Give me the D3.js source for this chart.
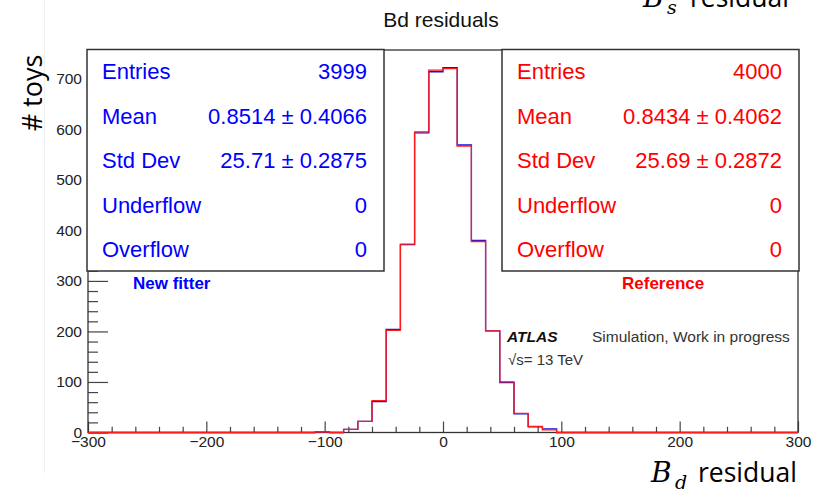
<!DOCTYPE html>
<html>
<head>
<meta charset="utf-8">
<script src="https://cdn.jsdelivr.net/npm/d3@7"></script>
<style>
  body { margin: 0; background: #fff; }
  svg { display: block; }
</style>
</head>
<body>
<svg id="chart" width="825" height="495"></svg>
<script>
// Histogram binning: 50 bins of width 12 over [-300, 300]
const xMin = -300;
const xMax = 300;
const binWidth = 12;
const yMax = 757;

// Bin contents, "New fitter" (blue)
const countsNew = [
  0, 0, 0, 0, 0, 0, 0, 0, 0, 0,
  0, 0, 0, 0, 0, 0, 1, 0, 6, 22,
  61, 204, 372, 593, 714, 722, 569, 380, 201, 99,
  37, 11, 7, 0, 0, 0, 0, 0, 0, 0,
  0, 0, 0, 0, 0, 0, 0, 0, 0, 0
];

// Bin contents, "Reference" (red)
const countsRef = [
  0, 0, 0, 0, 0, 0, 0, 0, 0, 0,
  0, 0, 0, 0, 0, 0, 1, 0, 6, 22,
  63, 202, 373, 595, 717, 720, 567, 378, 201, 100,
  38, 12, 5, 0, 0, 0, 0, 0, 0, 0,
  0, 0, 0, 0, 0, 0, 0, 0, 0, 0
];

// Axis ticks
const xMajorTicks = [-300, -200, -100, 0, 100, 200, 300];
const yMajorTicks = [0, 100, 200, 300, 400, 500, 600, 700];

// Statistics boxes
const statLabels = ["Entries", "Mean", "Std Dev", "Underflow", "Overflow"];
const statsNew = ["3999", "0.8514 \u00b1 0.4066", "25.71 \u00b1 0.2875", "0", "0"];
const statsRef = ["4000", "0.8434 \u00b1 0.4062", "25.69 \u00b1 0.2872", "0", "0"];

const svg = d3.select("#chart");
const ROOT_FONT = "'Liberation Sans', Arial, Helvetica, sans-serif";
const SLIDE_FONT = "'Open Sans', 'Noto Sans', sans-serif";
const MATH_FONT = "'DejaVu Serif', 'Liberation Serif', serif";

const frame = { left: 88, right: 798, top: 50, bottom: 432.5 };

const x = d3.scaleLinear().domain([xMin, xMax]).range([frame.left, frame.right]);
const y = d3.scaleLinear().domain([0, yMax]).range([frame.bottom, frame.top]);

// faint edge of the embedded canvas
svg.append("line")
  .attr("x1", 44.5).attr("x2", 44.5).attr("y1", 0).attr("y2", 473)
  .attr("stroke", "#f0f0f0").attr("stroke-width", 1);

// title
svg.append("text")
  .attr("x", 441).attr("y", 27)
  .attr("text-anchor", "middle")
  .attr("font-family", ROOT_FONT).attr("font-size", 21)
  .attr("fill", "#111")
  .text("Bd residuals");

// ---- axes ----
function styleAxis(g) {
  g.select(".domain").remove();
  g.selectAll("line").attr("stroke", "#444").attr("stroke-width", 1.2);
  g.selectAll("text").attr("font-family", ROOT_FONT).attr("font-size", 15.5).attr("fill", "#222");
}

const xMinor = d3.range(xMin, xMax + 1, 20).filter(v => v % 100 !== 0);
svg.append("g")
  .attr("transform", `translate(0,${frame.bottom})`)
  .call(d3.axisBottom(x).tickValues(xMinor).tickSize(-5.7).tickFormat(""))
  .call(styleAxis);
svg.append("g")
  .attr("transform", `translate(0,${frame.bottom})`)
  .call(d3.axisBottom(x).tickValues(xMajorTicks).tickSize(-11).tickPadding(3).tickFormat(d3.format("d")))
  .call(styleAxis);

const yMinor = d3.range(0, yMax, 20).filter(v => v % 100 !== 0);
svg.append("g")
  .attr("transform", `translate(${frame.left},0)`)
  .call(d3.axisLeft(y).tickValues(yMinor).tickSize(-10).tickFormat(""))
  .call(styleAxis);
svg.append("g")
  .attr("transform", `translate(${frame.left},0)`)
  .call(d3.axisLeft(y).tickValues(yMajorTicks).tickSize(-20).tickPadding(6).tickFormat(d3.format("d")))
  .call(styleAxis);

// frame
svg.append("rect")
  .attr("x", frame.left).attr("y", frame.top)
  .attr("width", frame.right - frame.left).attr("height", frame.bottom - frame.top)
  .attr("fill", "none").attr("stroke", "#333").attr("stroke-width", 1.3);

// ---- histograms ----
function histPoints(counts) {
  const pts = counts.map((c, i) => [xMin + i * binWidth, c]);
  pts.push([xMax, counts[counts.length - 1]]);
  return pts;
}
const stepLine = d3.line()
  .x(d => x(d[0]))
  .y(d => y(d[1]))
  .curve(d3.curveStepAfter);

svg.append("path")
  .attr("d", stepLine(histPoints(countsNew)))
  .attr("fill", "none").attr("stroke", "#1010e0").attr("stroke-width", 1.3);
svg.append("path")
  .attr("d", stepLine(histPoints(countsRef)))
  .attr("fill", "none").attr("stroke", "#ff1a1a").attr("stroke-width", 1.3);

// ---- statistics boxes ----
function statBox(box, values, color) {
  svg.append("rect")
    .attr("x", box.x0).attr("y", box.y0)
    .attr("width", box.x1 - box.x0).attr("height", box.y1 - box.y0)
    .attr("fill", "#fff").attr("stroke", "#333").attr("stroke-width", 1.5);
  const rowY = d3.scalePoint().domain(statLabels).range([79, 257]);
  statLabels.forEach((lab, i) => {
    svg.append("text")
      .attr("x", box.x0 + 15).attr("y", rowY(lab))
      .attr("font-family", ROOT_FONT).attr("font-size", 22).attr("fill", color)
      .text(lab);
    svg.append("text")
      .attr("x", box.x1 - 17).attr("y", rowY(lab))
      .attr("text-anchor", "end")
      .attr("font-family", ROOT_FONT).attr("font-size", 22).attr("fill", color)
      .text(values[i]);
  });
}
statBox({ x0: 87, x1: 384, y0: 49.5, y1: 271 }, statsNew, "#0000ff");
statBox({ x0: 502, x1: 799, y0: 49.5, y1: 271 }, statsRef, "#ff0000");

// legend labels
svg.append("text")
  .attr("x", 133).attr("y", 289)
  .attr("font-family", ROOT_FONT).attr("font-size", 17).attr("font-weight", "bold")
  .attr("fill", "#0000ff")
  .text("New fitter");
svg.append("text")
  .attr("x", 622).attr("y", 288.5)
  .attr("font-family", ROOT_FONT).attr("font-size", 17).attr("font-weight", "bold")
  .attr("fill", "#ff0000")
  .text("Reference");

// ATLAS label
svg.append("text")
  .attr("x", 507).attr("y", 342)
  .attr("font-family", ROOT_FONT).attr("font-size", 15.5)
  .attr("font-weight", "bold").attr("font-style", "italic")
  .attr("fill", "#111")
  .text("ATLAS");
svg.append("text")
  .attr("x", 592).attr("y", 342)
  .attr("font-family", ROOT_FONT).attr("font-size", 15.5)
  .attr("fill", "#333")
  .text("Simulation, Work in progress");
svg.append("text")
  .attr("x", 508).attr("y", 365)
  .attr("font-family", ROOT_FONT).attr("font-size", 15)
  .attr("fill", "#333")
  .text("\u221as= 13 TeV");

// ---- slide axis titles ----
svg.append("text")
  .attr("transform", "translate(42,93) rotate(-90)")
  .attr("text-anchor", "middle")
  .attr("font-family", SLIDE_FONT).attr("font-size", 27)
  .attr("fill", "#000")
  .text("# toys");

function residualLabel(xPos, baseY, sub) {
  const g = svg.append("g").attr("transform", `translate(${xPos},${baseY})`);
  g.append("text")
    .attr("x", 0).attr("y", 0)
    .attr("font-family", MATH_FONT).attr("font-style", "italic").attr("font-size", 28)
    .attr("fill", "#000")
    .text("B");
  g.append("text")
    .attr("x", 24).attr("y", 7)
    .attr("font-family", MATH_FONT).attr("font-style", "italic").attr("font-size", 19)
    .attr("fill", "#000")
    .text(sub);
  g.append("text")
    .attr("x", 47).attr("y", 0)
    .attr("font-family", SLIDE_FONT).attr("font-size", 26.5)
    .attr("fill", "#000")
    .text("residual");
}
residualLabel(651, 482, "d");
residualLabel(643, 7, "s");
</script>
</body>
</html>
